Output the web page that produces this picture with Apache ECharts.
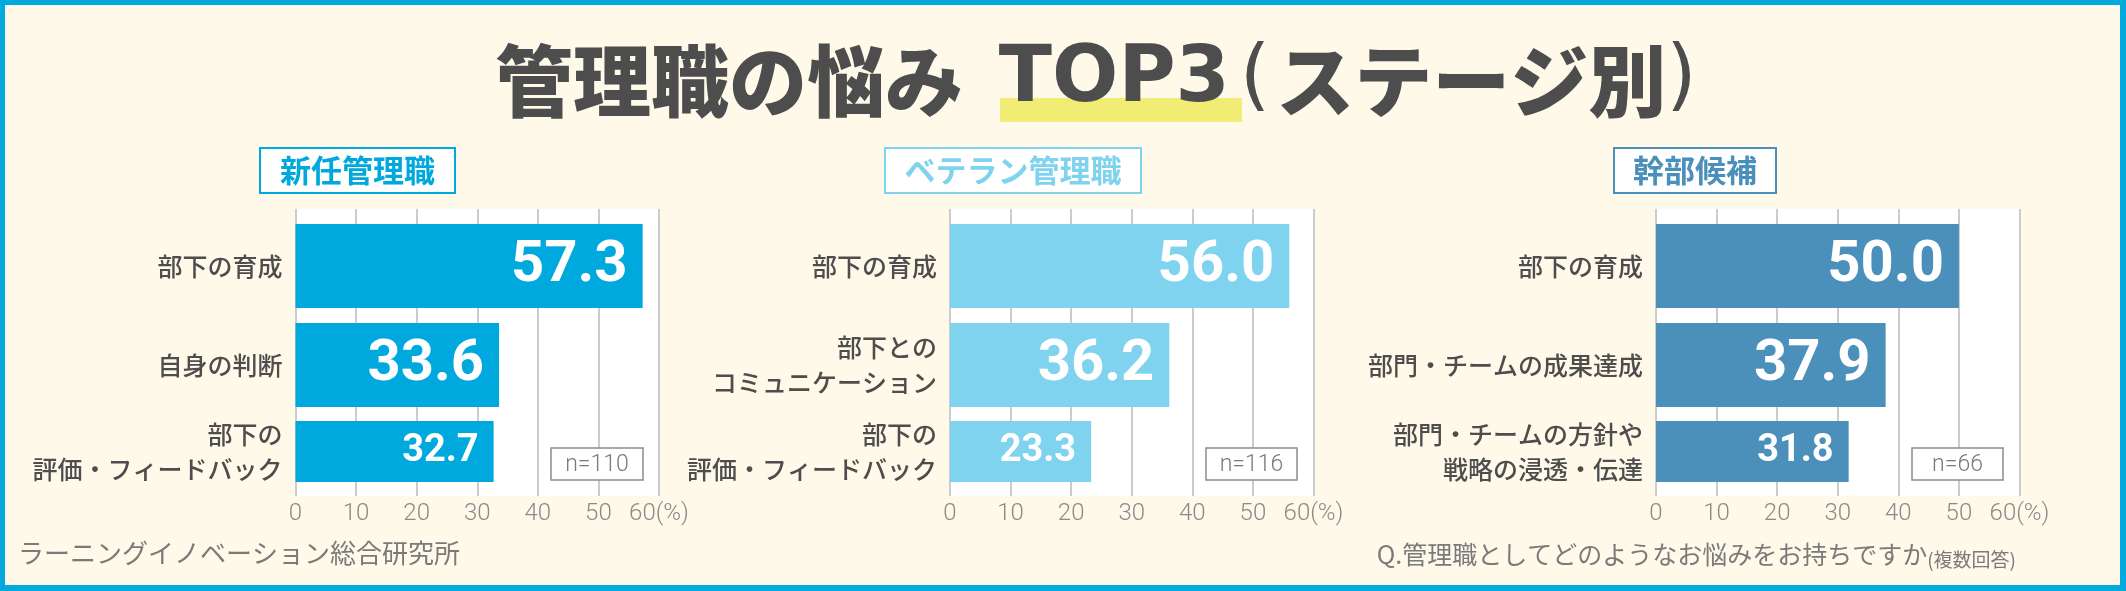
<!DOCTYPE html>
<html>
<head>
<meta charset="utf-8">
<script src="https://cdn.jsdelivr.net/npm/echarts@6/dist/echarts.min.js"></script>
<style>
html,body{margin:0;padding:0;background:#FEF9E9;}
#chart{width:2126px;height:591px;}
</style>
</head>
<body>
<div id="chart"></div>
<script>
// ---------- data ----------
const titleMain = '管理職の悩み ';
const titleEmph = 'TOP3';
const titleParenOpen = '(';
const titleTail = 'ステージ別';
const titleParenClose = ')';
const panelTitles = ['新任管理職', 'ベテラン管理職', '幹部候補'];
const sampleSizes = ['n=110', 'n=116', 'n=66'];
const categoriesNew = ['部下の育成', '自身の判断', '部下の\n評価・フィードバック'];
const valuesNew = [57.3, 33.6, 32.7];
const categoriesVeteran = ['部下の育成', '部下との\nコミュニケーション', '部下の\n評価・フィードバック'];
const valuesVeteran = [56.0, 36.2, 23.3];
const categoriesExec = ['部下の育成', '部門・チームの成果達成', '部門・チームの方針や\n戦略の浸透・伝達'];
const valuesExec = [50.0, 37.9, 31.8];
const xTickMin = 0, xTickMax = 60, xTickStep = 10;
const unitLabel = '(%)';
const footerSource = 'ラーニングイノベーション総合研究所';
const footerQuestion = 'Q.管理職としてどのようなお悩みをお持ちですか';
const footerNote = '(複数回答)';

// ---------- styles / layout ----------
const panels = [
  {cats: categoriesNew, vals: valuesNew},
  {cats: categoriesVeteran, vals: valuesVeteran},
  {cats: categoriesExec, vals: valuesExec}
];
const panelColors = ['#00A9DD', '#80D3EE', '#4B90BA'];
const plotLefts = [295.5, 950, 1656];
const PLOT_W = 363.5, PLOT_TOP = 209, PLOT_H = 287;
const headerBoxes = [[260, 148, 195, 45], [885, 148, 256, 45], [1614, 148, 162, 45]];
const nBoxes = [[551, 448, 92, 32], [1206, 448, 91, 32], [1912, 448, 91, 32]];
const JP = "'Noto Sans CJK JP', sans-serif";
const NUM = "Roboto, 'Noto Sans', sans-serif";
const LAT = "'DejaVu Sans', sans-serif";
const BLUE = '#00AADD';
const CREAM = '#FEF9E9';
const INK = '#4D4D4D';

const grids = [], xAxes = [], yAxes = [], series = [], graphics = [];

// frame
graphics.push({type: 'rect', shape: {x: 0, y: 0, width: 2126, height: 5}, style: {fill: BLUE}});
graphics.push({type: 'rect', shape: {x: 0, y: 585, width: 2126, height: 6}, style: {fill: BLUE}});
graphics.push({type: 'rect', shape: {x: 0, y: 0, width: 5, height: 591}, style: {fill: BLUE}});
graphics.push({type: 'rect', shape: {x: 2120, y: 0, width: 6, height: 591}, style: {fill: BLUE}});
// highlight under TOP3
graphics.push({type: 'rect', shape: {x: 1000, y: 98, width: 242, height: 24}, style: {fill: '#F0EC74'}, z: 1});

panels.forEach((p, i) => {
  const L = plotLefts[i];
  const g0 = grids.length;
  grids.push({left: L, top: PLOT_TOP, width: PLOT_W, height: PLOT_H, show: true,
              backgroundColor: '#FFFFFF', borderWidth: 0});
  grids.push({left: L, top: 216.5, width: PLOT_W, height: 198});
  grids.push({left: L, top: 407, width: PLOT_W, height: 89});

  xAxes.push({gridIndex: g0, type: 'value', min: xTickMin, max: xTickMax, interval: xTickStep,
    axisLine: {show: false}, axisTick: {show: false},
    splitLine: {show: true, lineStyle: {color: '#CCCCCC', width: 2}},
    axisLabel: {margin: 6, color: '#8A8A8A', fontSize: 24, fontFamily: NUM, fontWeight: 300,
      formatter: v => v === xTickMax ? v + unitLabel : String(v)}});
  yAxes.push({gridIndex: g0, type: 'value', show: false});

  const yLabel = {margin: 13, color: INK, fontSize: 25, fontFamily: JP, fontWeight: 500, lineHeight: 35};
  [[0, 2, 84, 58], [2, 3, 61, 38]].forEach(([a, b, bw, fs], k) => {
    const gi = g0 + 1 + k;
    xAxes.push({gridIndex: gi, type: 'value', min: xTickMin, max: xTickMax, show: false});
    yAxes.push({gridIndex: gi, type: 'category', inverse: true, data: p.cats.slice(a, b),
      axisLine: {show: false}, axisTick: {show: false}, splitLine: {show: false},
      axisLabel: yLabel});
    series.push({type: 'bar', xAxisIndex: gi, yAxisIndex: gi, data: p.vals.slice(a, b),
      barWidth: bw, silent: true,
      itemStyle: {color: panelColors[i]},
      label: {show: true, position: 'insideRight', distance: 15,
        formatter: d => d.value.toFixed(1),
        color: '#FFFFFF', fontSize: fs, fontWeight: 'bold', fontFamily: NUM}});
  });

  const hb = headerBoxes[i];
  graphics.push({type: 'rect', shape: {x: hb[0], y: hb[1], width: hb[2], height: hb[3]},
    style: {fill: '#FFFFFF', stroke: panelColors[i], lineWidth: 2}, z: 5});
  graphics.push({type: 'text', x: hb[0] + hb[2] / 2, y: hb[1] + hb[3] / 2, z: 6,
    style: {text: panelTitles[i], fill: panelColors[i], font: 'bold 31px ' + JP,
      align: 'center', verticalAlign: 'middle'}});
  const nb = nBoxes[i];
  graphics.push({type: 'rect', shape: {x: nb[0], y: nb[1], width: nb[2], height: nb[3]},
    style: {fill: '#FFFFFF', stroke: '#8C8C8C', lineWidth: 1.5}, z: 5});
  graphics.push({type: 'text', x: nb[0] + nb[2] / 2, y: nb[1] + nb[3] / 2 + 1, z: 6,
    style: {text: sampleSizes[i], fill: '#7A7A7A', font: '300 23px ' + NUM,
      align: 'center', verticalAlign: 'middle'}});
});

const option = {
  animation: false,
  backgroundColor: CREAM,
  title: [
    {text: '{j|' + titleMain + '}{e|' + titleEmph + '}{po|' + titleParenOpen + '}{j|' + titleTail + '}{pc|' + titleParenClose + '}',
     left: 495, top: 42, padding: 0, z: 10,
     textStyle: {rich: {
       j: {fontFamily: JP, fontSize: 78, fontWeight: 900, color: INK},
       e: {fontFamily: LAT, fontSize: 78, fontWeight: 'bold', color: INK, padding: [0, 0, 0, 18]},
       po: {fontFamily: LAT, fontSize: 78, fontWeight: 'normal', color: INK, padding: [0, 6, 0, 10]},
       pc: {fontFamily: LAT, fontSize: 78, fontWeight: 'normal', color: INK}
     }}},
    {text: footerSource, left: 18, top: 540, padding: 0,
     textStyle: {fontFamily: JP, fontSize: 26, fontWeight: 'normal', color: '#7A7A7A'}},
    {text: '{a|' + footerQuestion + '}{b|' + footerNote + '}', right: 110, top: 539, padding: 0,
     textStyle: {rich: {
       a: {fontFamily: JP, fontSize: 25, fontWeight: 'normal', color: '#7A7A7A', lineHeight: 30},
       b: {fontFamily: JP, fontSize: 19, fontWeight: 'normal', color: '#7A7A7A', lineHeight: 24, verticalAlign: 'bottom'}
     }}}
  ],
  grid: grids,
  xAxis: xAxes,
  yAxis: yAxes,
  series: series,
  graphic: {elements: graphics}
};

const chart = echarts.init(document.getElementById('chart'), null, {renderer: 'canvas'});
chart.setOption(option);
</script>
</body>
</html>
